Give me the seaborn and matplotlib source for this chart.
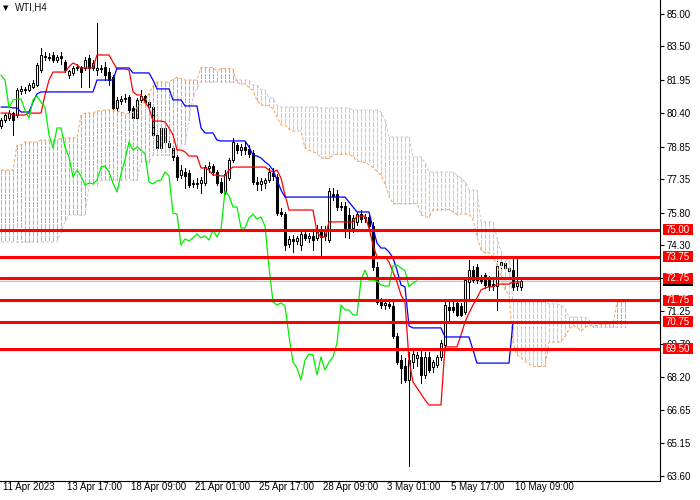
import numpy as np
import matplotlib
matplotlib.use("Agg")
import matplotlib.pyplot as plt
import matplotlib.transforms as mtransforms
from matplotlib.patches import Rectangle
import seaborn as sns

# ---------------- data (WTI, H4) ----------------
opens = [79.81, 80.09, 80.18, 80.41, 80.32, 81.43, 81.53, 81.48, 81.62, 81.71,
         82.41, 83.01, 83.01, 83.10, 82.87, 83.05, 82.78, 82.17, 82.27, 82.50,
         82.55, 82.50, 82.96, 82.50, 82.41, 82.50, 82.55, 82.31, 82.08, 80.65,
         80.97, 81.11, 81.16, 80.65, 80.18, 81.02, 81.20, 80.92, 80.69, 79.40,
         78.79, 79.07, 79.03, 78.79, 78.38, 77.54, 77.68, 77.64, 77.13, 77.17,
         77.17, 77.17, 77.87, 77.96, 77.68, 77.22, 76.76, 77.40, 78.24, 78.93,
         78.70, 78.84, 78.75, 78.56, 77.22, 77.13, 77.17, 77.31, 77.64, 77.45,
         75.83, 75.73, 74.35, 74.58, 74.49, 74.30, 74.81, 74.63, 74.72, 74.63,
         75.04, 74.72, 74.53, 76.66, 76.66, 76.11, 76.11, 75.69, 75.09, 75.37,
         75.73, 75.55, 75.60, 75.18, 73.28, 71.66, 71.52, 71.57, 71.48, 70.09,
         68.97, 68.70, 68.05, 68.88, 69.07, 69.11, 68.28, 69.11, 68.65, 68.74,
         69.11, 69.67, 71.43, 71.43, 71.62, 71.48, 71.20, 72.59, 73.14, 73.28,
         72.72, 72.91, 72.68, 72.49, 72.40, 73.51, 73.47, 73.24, 73.14, 72.40,
         72.36]
highs = [80.18, 80.41, 80.55, 80.46, 81.57, 81.67, 81.62, 81.80, 81.94, 82.73,
         83.43, 83.24, 83.19, 83.24, 83.10, 83.24, 82.87, 82.41, 82.59, 82.69,
         82.59, 83.01, 83.10, 82.87, 84.58, 82.64, 82.78, 82.50, 82.17, 81.16,
         81.20, 81.30, 81.25, 80.74, 81.11, 81.48, 81.25, 81.02, 80.78, 79.63,
         79.81, 79.86, 79.16, 78.89, 78.47, 78.01, 77.87, 77.77, 77.31, 77.40,
         77.45, 78.01, 78.15, 78.06, 77.77, 77.40, 77.77, 78.33, 79.26, 79.03,
         78.98, 79.07, 78.93, 78.70, 77.45, 77.40, 77.40, 77.87, 77.87, 77.59,
         76.01, 75.83, 74.72, 74.76, 74.72, 74.90, 74.99, 74.86, 74.99, 75.23,
         75.18, 75.18, 76.94, 76.94, 76.85, 76.29, 76.29, 76.01, 75.69, 75.83,
         75.92, 75.73, 75.78, 75.37, 73.51, 71.85, 71.80, 71.75, 71.75, 70.23,
         69.21, 69.07, 69.35, 69.44, 69.35, 69.44, 69.35, 69.35, 68.97, 69.21,
         69.90, 71.75, 71.66, 71.75, 71.75, 71.62, 72.77, 73.61, 73.33, 73.42,
         72.91, 73.00, 72.86, 72.77, 73.61, 73.61, 73.56, 73.33, 73.70, 73.70,
         72.68]
lows = [79.72, 79.99, 80.09, 79.40, 80.23, 81.30, 81.34, 81.43, 81.57, 81.67,
        82.31, 82.87, 82.87, 82.78, 82.78, 82.69, 82.31, 82.03, 82.17, 82.41,
        81.62, 82.41, 81.62, 82.41, 82.17, 82.31, 81.94, 81.71, 80.55, 80.46,
        80.83, 80.92, 80.46, 79.99, 79.95, 80.92, 80.78, 80.55, 79.30, 78.70,
        78.61, 78.93, 78.70, 78.24, 77.31, 77.40, 76.94, 76.99, 76.99, 76.94,
        76.71, 77.08, 77.68, 77.54, 77.08, 76.71, 76.66, 77.31, 78.15, 78.56,
        78.47, 78.52, 78.38, 77.13, 76.85, 76.85, 76.94, 77.22, 77.31, 75.69,
        75.64, 74.07, 74.21, 73.98, 74.35, 74.07, 74.53, 74.44, 74.07, 74.53,
        73.84, 74.53, 74.44, 76.38, 75.92, 75.92, 74.67, 74.63, 74.90, 75.23,
        75.37, 75.37, 74.99, 73.14, 71.57, 71.38, 71.34, 71.38, 70.00, 68.79,
        67.91, 67.95, 64.06, 68.60, 68.70, 67.91, 68.14, 68.42, 68.42, 68.65,
        68.97, 69.58, 70.83, 71.20, 71.01, 71.01, 71.10, 71.75, 72.59, 72.54,
        72.54, 72.31, 72.22, 72.22, 71.29, 73.24, 73.14, 72.96, 72.22, 72.22,
        72.22]
closes = [80.09, 80.32, 80.41, 80.09, 81.48, 81.53, 81.48, 81.71, 81.80, 82.64,
          83.10, 83.05, 82.96, 82.87, 83.01, 82.96, 82.41, 82.36, 82.50, 82.55,
          82.31, 82.87, 82.50, 82.73, 82.50, 82.45, 82.17, 81.94, 80.65, 81.02,
          81.06, 81.06, 80.55, 80.18, 81.02, 81.20, 80.92, 80.69, 79.40, 78.79,
          79.72, 79.72, 78.84, 78.38, 77.45, 77.77, 77.50, 77.08, 77.17, 77.13,
          77.31, 77.91, 77.96, 77.68, 77.17, 76.76, 77.59, 78.24, 79.07, 78.70,
          78.84, 78.70, 78.52, 77.22, 77.13, 77.27, 77.31, 77.68, 77.50, 75.78,
          75.73, 74.30, 74.58, 74.49, 74.63, 74.81, 74.63, 74.72, 74.53, 74.99,
          74.67, 75.04, 76.80, 76.57, 76.06, 76.06, 75.09, 75.09, 75.55, 75.73,
          75.50, 75.60, 75.18, 73.28, 71.66, 71.52, 71.62, 71.48, 70.09, 68.88,
          68.60, 68.05, 68.97, 69.25, 69.21, 68.28, 69.11, 68.51, 68.88, 69.11,
          69.76, 71.52, 71.29, 71.29, 71.06, 71.06, 72.68, 73.14, 72.68, 72.68,
          72.63, 72.45, 72.40, 72.40, 73.33, 73.37, 73.24, 73.10, 72.36, 72.54,
          72.64]

tenkan = [80.41, 80.41, 80.41, 80.32, 80.32, 80.32, 80.32, 80.41, 80.41, 80.41,
          80.41, 81.25, 81.94, 82.31, 82.31, 82.31, 82.31, 82.55, 82.73, 82.64,
          82.50, 82.50, 82.50, 82.50, 83.10, 83.10, 83.10, 83.10, 82.78, 82.45,
          82.45, 82.45, 82.41, 81.39, 81.25, 81.25, 80.92, 80.65, 80.04, 80.04,
          80.04, 80.00, 79.72, 79.40, 78.70, 78.70, 78.61, 78.42, 78.42, 78.42,
          77.87, 77.87, 77.77, 77.54, 77.54, 77.50, 77.50, 77.77, 77.91, 77.91,
          77.91, 77.91, 77.91, 77.91, 77.91, 77.91, 77.91, 77.77, 77.68, 77.77,
          77.40, 76.62, 75.92, 75.92, 75.92, 75.92, 75.92, 75.92, 75.92, 74.90,
          74.67, 74.67, 75.37, 75.37, 75.37, 75.37, 75.37, 75.37, 75.37, 75.64,
          75.64, 75.64, 75.09, 74.30, 73.75, 73.75, 73.75, 73.51, 73.05, 72.59,
          71.99, 71.66, 68.97, 67.96, 67.68, 67.40, 67.12, 66.89, 66.89, 66.89,
          66.89, 69.58, 69.58, 69.58, 69.58, 70.13, 70.73, 71.15, 71.52, 71.85,
          72.22, 72.31, 72.36, 72.36, 72.49, 72.49, 72.49, 72.49, 72.59, 72.59,
          72.59]
kijun = [80.69, 80.69, 80.69, 80.65, 80.65, 80.46, 80.46, 80.46, 80.92, 81.30,
         81.39, 81.39, 81.39, 81.39, 81.39, 81.39, 81.39, 81.39, 81.39, 81.39,
         81.39, 81.39, 81.39, 81.39, 81.94, 81.94, 81.94, 81.94, 81.94, 82.50,
         82.50, 82.50, 82.50, 82.27, 82.27, 82.27, 82.27, 82.27, 81.94, 81.53,
         81.53, 81.53, 81.53, 81.02, 81.02, 81.02, 80.74, 80.74, 80.74, 80.74,
         79.72, 79.49, 79.49, 79.49, 79.16, 79.12, 79.12, 79.12, 79.12, 79.12,
         79.12, 79.12, 78.84, 78.47, 78.42, 78.33, 78.15, 78.01, 77.77, 77.31,
         76.85, 76.52, 76.52, 76.52, 76.52, 76.52, 76.52, 76.52, 76.52, 76.52,
         76.52, 76.52, 76.52, 76.52, 76.52, 76.52, 76.52, 76.29, 76.06, 75.83,
         75.83, 75.83, 75.83, 75.09, 74.39, 74.16, 74.16, 73.98, 73.70, 73.14,
         72.45, 72.36, 70.55, 70.46, 70.46, 70.46, 70.46, 70.46, 70.46, 70.46,
         70.46, 70.04, 70.04, 70.04, 70.04, 70.04, 70.04, 70.04, 69.44, 68.83,
         68.83, 68.83, 68.83, 68.83, 68.83, 68.83, 68.83, 68.83, 70.73, 70.73,
         70.73]
span_a = [77.77, 77.77, 77.77, 77.77, 78.93, 78.93, 79.07, 79.07, 79.07, 79.07,
          79.16, 79.16, 79.16, 79.16, 79.16, 79.26, 79.26, 79.26, 79.26, 79.26,
          80.32, 80.41, 80.41, 80.41, 80.51, 80.51, 80.55, 80.55, 80.55, 80.48,
          80.48, 80.39, 80.39, 80.44, 80.67, 80.85, 80.90, 81.32, 81.66, 81.85,
          81.85, 81.85, 81.85, 81.97, 82.06, 82.01, 81.94, 81.94, 81.94, 81.94,
          82.52, 82.52, 82.52, 82.52, 82.36, 82.48, 82.48, 82.48, 82.45, 81.83,
          81.76, 81.76, 81.60, 81.46, 80.99, 80.78, 80.78, 80.76, 80.62, 80.21,
          79.86, 79.86, 79.67, 79.58, 79.58, 79.58, 78.79, 78.68, 78.63, 78.51,
          78.35, 78.31, 78.31, 78.45, 78.51, 78.51, 78.51, 78.51, 78.38, 78.19,
          78.17, 78.12, 78.03, 77.89, 77.73, 77.54, 77.13, 76.57, 76.22, 76.22,
          76.22, 76.22, 76.22, 76.22, 76.22, 75.71, 75.60, 75.60, 75.94, 75.94,
          75.94, 75.94, 75.94, 75.83, 75.71, 75.74, 75.74, 75.74, 75.46, 74.69,
          74.07, 73.95, 73.95, 73.74, 73.37, 72.86, 72.22, 72.01, 69.76, 69.20,
          69.07, 68.93, 68.79, 68.67, 68.67, 68.67, 68.67, 69.81, 69.81, 69.81,
          69.81, 70.09, 70.39, 70.59, 70.48, 70.32, 70.50, 70.55, 70.57, 70.57,
          70.64, 70.64, 70.64, 70.66, 71.66, 71.66, 71.66]
span_b = [74.44, 74.44, 74.44, 74.44, 74.44, 74.44, 74.44, 74.44, 74.44, 74.44,
          74.44, 74.44, 74.44, 74.44, 74.44, 74.90, 75.37, 75.69, 75.69, 75.69,
          75.69, 75.69, 77.08, 77.08, 77.08, 77.31, 77.31, 77.31, 77.31, 77.31,
          77.31, 77.31, 77.31, 77.31, 77.31, 78.15, 78.15, 78.15, 78.47, 78.47,
          78.47, 78.47, 78.47, 78.47, 78.47, 78.93, 78.93, 80.09, 81.11, 81.57,
          81.85, 81.85, 81.85, 81.85, 81.85, 81.85, 81.85, 81.85, 81.85, 81.94,
          81.94, 81.94, 81.94, 81.71, 81.71, 81.48, 81.48, 81.11, 81.11, 80.78,
          80.69, 80.69, 80.69, 80.69, 80.69, 80.69, 80.69, 80.69, 80.69, 80.69,
          80.65, 80.65, 80.65, 80.65, 80.65, 80.65, 80.65, 80.65, 80.55, 80.55,
          80.55, 80.55, 80.55, 80.55, 80.55, 80.46, 80.09, 79.30, 79.30, 79.30,
          79.30, 79.30, 79.30, 78.38, 78.38, 78.38, 78.10, 77.68, 77.68, 77.68,
          77.68, 77.68, 77.68, 77.68, 77.54, 77.40, 77.22, 76.85, 76.85, 76.85,
          75.37, 75.37, 75.37, 75.37, 74.62, 74.02, 73.61, 73.61, 71.66, 71.66,
          71.66, 71.66, 71.66, 71.66, 71.66, 71.66, 71.66, 71.57, 71.57, 71.57,
          71.52, 71.38, 70.96, 70.96, 70.96, 70.96, 70.96, 70.83, 70.50, 70.50,
          70.50, 70.50, 70.50, 70.50, 70.50, 70.50, 70.50]

chikou_shift = 26
levels = [75.00, 73.75, 72.75, 71.75, 70.75, 69.50]
level_labels = ["75.00", "73.75", "72.75", "71.75", "70.75", "69.50"]
price_ticks = [85.00, 83.50, 81.95, 80.40, 78.85, 77.35, 75.80, 74.30, 72.75,
               71.25, 69.70, 68.20, 66.65, 65.15, 63.60]
time_ticks = [0, 16, 32, 48, 64, 80, 96, 112, 128]
time_labels = ["11 Apr 2023", "13 Apr 17:00", "18 Apr 09:00", "21 Apr 01:00",
               "25 Apr 17:00", "28 Apr 09:00", "3 May 01:00", "5 May 17:00",
               "10 May 09:00"]
current_price = 72.64
title = "WTI,H4"

# ---------------- style ----------------
sns.set_style("white")
plt.rcParams['font.family'] = ['Liberation Sans', 'DejaVu Sans']
plt.rcParams['lines.scale_dashes'] = False

W, H = 700, 500
fig = plt.figure(figsize=(7, 5), dpi=100)
fig.patch.set_facecolor('white')
ax = fig.add_axes([0, 19 / H, 660 / W, 481 / H])
ax.set_facecolor('white')
ax.set_xlim(-0.25, 164.75)
ax.set_ylim(63.369, 85.648)

ORANGE = '#F4A460'
THISTLE = '#D8BFD8'
DASH = (0, (2.9, 1.4))
LINE_DASH = (0, (2.2, 1.4))
PX = 0.72  # one pixel in points

# candles
o, h, l, c = (np.array(v) for v in (opens, highs, lows, closes))
bars = np.arange(len(c))
up = c >= o
ax.vlines(bars, l, h, colors='black', linewidth=PX, antialiased=False, zorder=2)
ax.bar(bars[up], np.maximum(c[up] - o[up], 0.015), bottom=o[up], width=0.6,
       color='white', edgecolor='black', linewidth=0.75, zorder=3)
ax.bar(bars[~up], o[~up] - c[~up], bottom=c[~up], width=0.6,
       color='black', edgecolor='black', linewidth=0.75, zorder=3)

# Ichimoku cloud (hatched with vertical dashes, one per bar)
a = np.array(span_a)
b = np.array(span_b)
xs = np.arange(len(a))
bull = a >= b
ax.vlines(xs[bull], a[bull], b[bull], colors=ORANGE, linestyles=[DASH],
          linewidth=PX, antialiased=False, zorder=4)
ax.vlines(xs[~bull], b[~bull], a[~bull], colors=THISTLE, linestyles=[DASH],
          linewidth=PX, antialiased=False, zorder=4)
ax.plot(xs, a, color=ORANGE, linestyle=LINE_DASH, linewidth=PX, zorder=4)
ax.plot(np.arange(len(b)), b, color=THISTLE, linestyle=LINE_DASH, linewidth=PX, zorder=4)

# Tenkan, Kijun, Chikou
sns.lineplot(x=np.arange(len(tenkan)), y=tenkan, ax=ax, color='#FF0000', linewidth=0.9, zorder=5)
sns.lineplot(x=np.arange(len(kijun)), y=kijun, ax=ax, color='#0000FF', linewidth=0.9, zorder=5)
sns.lineplot(x=bars[chikou_shift:] - chikou_shift, y=c[chikou_shift:], ax=ax,
             color='#00EE00', linewidth=0.9, zorder=5)

# current price line
ax.axhline(current_price, color='#C0C0C0', linewidth=0.8, zorder=1.5)

# horizontal levels
for lv in levels:
    ax.axhline(lv, color='#FF0000', linewidth=2.2, zorder=6)

ax.set_xlabel('')
ax.set_ylabel('')

# axes frame
for side in ('left', 'top'):
    ax.spines[side].set_visible(False)
for side in ('right', 'bottom'):
    ax.spines[side].set_visible(True)
    ax.spines[side].set_color('black')
    ax.spines[side].set_linewidth(0.8)

ax.yaxis.tick_right()
ax.set_yticks(price_ticks)
ax.set_yticklabels([f"{v:.2f}" for v in price_ticks])
ax.tick_params(axis='y', which='both', direction='out', length=3, width=0.8,
               pad=2, labelsize=7, colors='black', left=False, right=True)

ax.set_xticks(time_ticks)
ax.set_xticklabels(time_labels)
ax.tick_params(axis='x', direction='out', length=4, width=0.8, pad=-3,
               labelsize=7, colors='black')
offset = mtransforms.ScaledTranslation(1.5 / 72, 0, fig.dpi_scale_trans)
for lbl in ax.get_xticklabels():
    lbl.set_ha('left')
    lbl.set_transform(lbl.get_transform() + offset)

# price labels at right
trans = mtransforms.blended_transform_factory(ax.transAxes, ax.transData)
bx0, bw, bh = 1.0045, 0.0455, 11 / 21.59


def price_box(val, text, face, z):
    ax.add_patch(Rectangle((bx0, val - bh / 2), bw, bh, transform=trans,
                           facecolor=face, edgecolor='none', clip_on=False, zorder=z))
    ax.text(bx0 + bw / 2, val, text, transform=trans, ha='center', va='center',
            color='white', fontsize=7, clip_on=False, zorder=z + 0.1)


price_box(current_price, f"{current_price:.2f}", 'black', 7)
for lv, txt in zip(levels, level_labels):
    price_box(lv, txt, '#FF0000', 8)

# title
fig.text(15 / W, 1 - 8 / H, title, fontsize=7, color='#101010', ha='left', va='center')
fig.text(3 / W, 1 - 8 / H, "\u25BC", fontsize=5, color='black', ha='left', va='center',
         family=['DejaVu Sans'])

fig.savefig('out.png', dpi=100, facecolor='white')
